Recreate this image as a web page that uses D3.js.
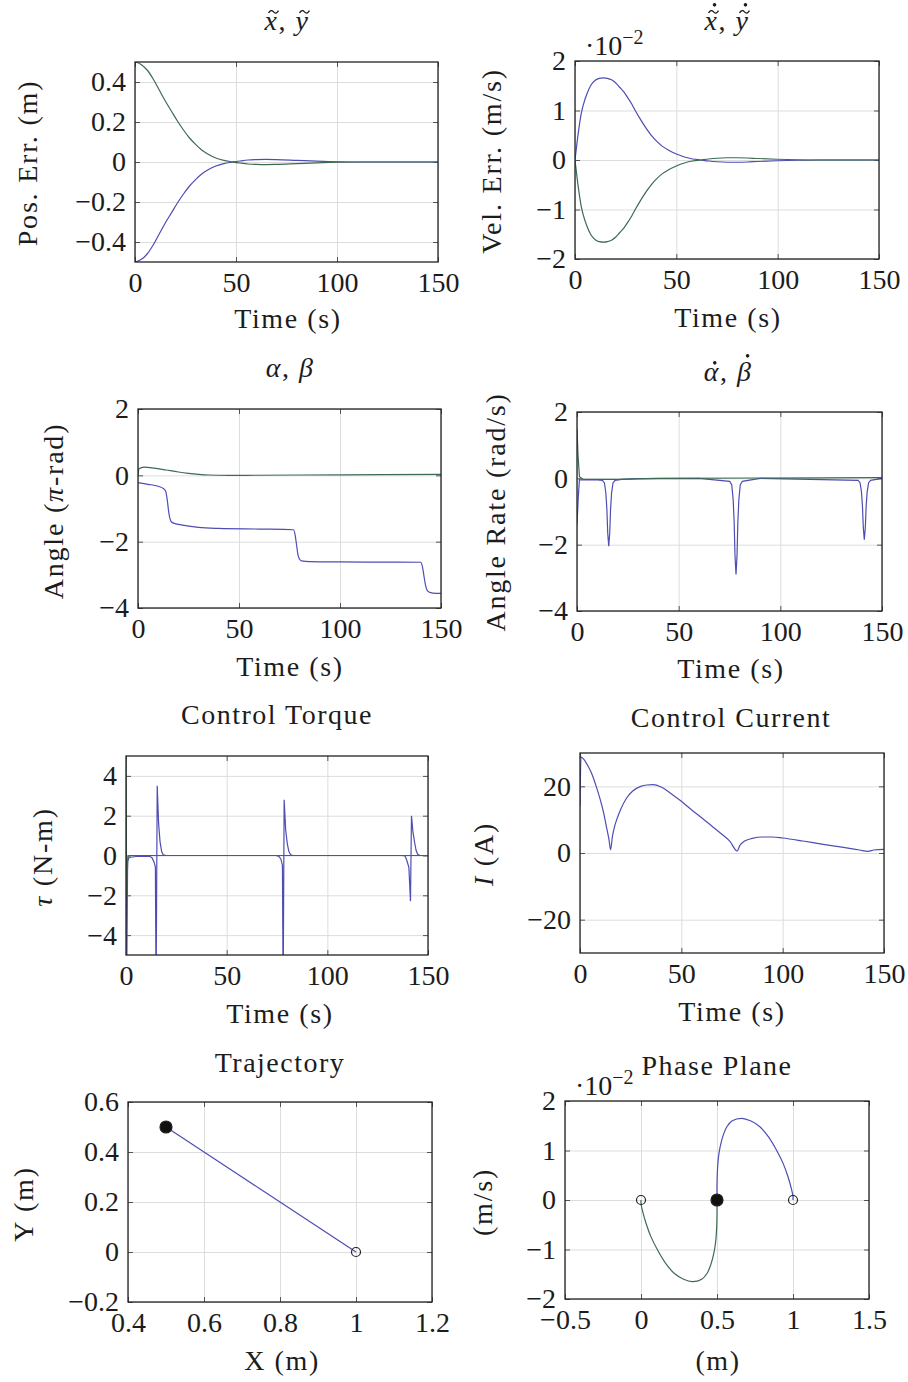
<!DOCTYPE html>
<html>
<head>
<meta charset="utf-8">
<script src="https://cdn.jsdelivr.net/npm/d3@7"></script>
<style>
body { margin: 0; background: #fff; }
</style>
</head>
<body>
<svg id="fig" width="908" height="1382"></svg>
<script>
// ---- data ----

// position error (m)
var posT     = [0,3,6,9,12,15,18,21,24,27,30,33,36,40,44,48,52,56,60,65,70,80,90,100,110,150];
var posGreen = [0.5,0.488,0.46,0.415,0.36,0.305,0.255,0.205,0.16,0.12,0.088,0.06,0.04,0.02,0.008,0.001,-0.005,-0.01,-0.012,-0.013,-0.012,-0.008,-0.004,-0.001,0,0];
var posBlue  = [-0.5,-0.488,-0.46,-0.415,-0.36,-0.305,-0.255,-0.205,-0.16,-0.12,-0.088,-0.06,-0.04,-0.02,-0.008,-0.001,0.005,0.01,0.012,0.013,0.012,0.008,0.004,0.001,0,0];

// velocity error (x 10^-2 m/s)
var velT     = [0,1,2,3,4,6,8,10,12,14,16,18,20,22,24,26,28,30,32,34,36,38,40,43,46,50,54,58,62,66,70,75,80,85,90,100,110,120,150];
var velBlue  = [0,0.35,0.66,0.92,1.1,1.35,1.52,1.61,1.65,1.66,1.65,1.62,1.56,1.47,1.38,1.26,1.13,0.98,0.84,0.71,0.59,0.48,0.39,0.28,0.2,0.12,0.06,0.02,0,-0.02,-0.035,-0.045,-0.045,-0.04,-0.03,-0.015,-0.005,0,0];
var velGreen = [0,-0.35,-0.66,-0.92,-1.1,-1.35,-1.52,-1.61,-1.65,-1.66,-1.65,-1.62,-1.56,-1.47,-1.38,-1.26,-1.13,-0.98,-0.84,-0.71,-0.59,-0.48,-0.39,-0.28,-0.2,-0.12,-0.06,-0.02,0,0.02,0.035,0.045,0.045,0.04,0.03,0.015,0.005,0,0];

// angles (pi-rad)
var angBlueT  = [0,5,10,13,13.8,14.5,15.2,15.8,16.5,18,22,30,40,60,77,77.8,78.5,79.2,80,81,85,100,140,140.8,141.6,142.3,143,144,146,150];
var angBlue   = [-0.22,-0.27,-0.33,-0.42,-0.5,-0.75,-1.1,-1.3,-1.4,-1.45,-1.5,-1.57,-1.6,-1.62,-1.64,-1.8,-2.1,-2.4,-2.53,-2.58,-2.6,-2.61,-2.62,-2.75,-3.05,-3.3,-3.45,-3.52,-3.55,-3.56];
var angGreenT = [0,0.5,3,8,14,20,25,30,35,45,80,120,150];
var angGreen  = [0,0.2,0.25,0.22,0.16,0.1,0.06,0.03,0.01,0,0.01,0.02,0.03];

// angle rates (rad/s)
var rateBlueT  = [0,0.6,1.2,3,10,12.5,13.5,14.2,14.7,15.1,15.6,16.1,16.5,17,17.7,18.7,22,30,60,75.1,76.1,76.8,77.3,77.7,78.2,78.7,79.1,79.6,80.3,81.3,90,138.2,139.2,139.9,140.4,140.8,141.3,141.8,142.2,142.7,143.4,144.4,150];
var rateBlue   = [-1.4,-0.6,-0.04,-0.05,-0.05,-0.06,-0.14,-0.45,-0.94,-1.64,-2.05,-1.64,-0.94,-0.45,-0.14,-0.06,-0.03,-0.01,0,-0.09,-0.2,-0.64,-1.33,-2.32,-2.9,-2.32,-1.33,-0.64,-0.2,-0.09,0,-0.06,-0.13,-0.41,-0.85,-1.48,-1.85,-1.48,-0.85,-0.41,-0.13,-0.06,0];
var rateGreenT = [0,0.5,1.2,3,20,40,150];
var rateGreen  = [1.5,0.7,0.05,-0.03,-0.03,0,0.02];

// control torque (N-m)
var torqBlueT  = [0,0.3,0.8,1.5,5,12,13,14,14.6,14.95,15.5,16.2,16.9,17.7,18.5,20,74.5,76,77,77.7,78.05,78.55,79.3,80.1,80.9,81.8,83,137,138.6,139.5,140.5,141.3,141.8,142.5,143.3,144.1,144.9,146,150];
var torqBlue   = [2,-7,-0.3,-0.1,-0.05,-0.05,-0.12,-0.35,-0.6,-7,3.5,1.6,0.7,0.2,0.03,0,0,-0.05,-0.2,-0.5,-7,2.8,1.3,0.6,0.2,0.04,0,0,-0.02,-0.25,-0.6,-2.3,2.0,1.2,0.69,0.25,0.06,0,0];
var torqGreenT = [0,0.3,0.9,1.5,150];
var torqGreen  = [6,-2,-0.1,0,0];

// control current (A)
var curT    = [0,0.5,2,4,6,8,10,11.5,13,14.3,15.1,16,17,18.1,20,23,26,30,33,36,40,45,50,55,60,65,70,74,77.5,79,81,85,90,95,100,110,120,130,138,142,145,150];
var curBlue = [14,28.8,28,26,23.5,20,16,12.5,8,4,1,5,7.8,10,13,16.5,18.6,20,20.4,20.5,19.8,17.8,15.5,13,10.6,8.1,5.6,3.5,0.6,2.4,3.5,4.4,4.8,4.8,4.5,3.6,2.6,1.7,0.9,0.5,0.9,1.1];

// trajectory (m)
var trajX = [0.5,0.625,0.75,0.875,1.0];
var trajY = [0.5,0.375,0.25,0.125,0.0];

// phase plane: position (m) vs velocity (x 10^-2 m/s)
var phaseBlueX  = [0.5,0.5,0.502,0.506,0.512,0.521,0.54,0.565,0.6,0.663,0.72,0.782,0.84,0.891,0.935,0.967,0.99,1.0,1.0];
var phaseBlueV  = [0,0.3,0.54,0.75,0.92,1.08,1.3,1.48,1.6,1.65,1.6,1.48,1.27,1.01,0.74,0.47,0.22,0.07,0];
var phaseGreenX = [0.5,0.5,0.498,0.494,0.488,0.479,0.46,0.435,0.4,0.337,0.28,0.218,0.16,0.109,0.065,0.033,0.01,0,0];
var phaseGreenV = [0,-0.3,-0.54,-0.75,-0.92,-1.08,-1.3,-1.48,-1.6,-1.65,-1.6,-1.48,-1.27,-1.01,-0.74,-0.47,-0.22,-0.07,0];

var timeTicks = [0,50,100,150];

// ---- drawing ----
var BLUE = "#4d4db3", GREEN = "#3d6b52", INK = "#1c1c1c";
var SERIF = "'Liberation Serif', 'DejaVu Serif', serif";
var svg = d3.select("#fig");

// title parts: [text, italic, accents]  accents: t = tilde, d = dot, h = tall letter
var panels = [
  { frame:[135,438,62,262], xd:[0,150], yd:[-0.5,0.5], xt:timeTicks, yt:[-0.4,-0.2,0,0.2,0.4],
    title:[["x",1,"t"],[", ",0],["y",1,"t"]], tpos:[287,30],
    xlab:[["Time (s)",0]], xpos:[288,328], ylab:[["Pos. Err. (m)",0]], ypos:[37,163],
    series:[[posT, posBlue, BLUE],[posT, posGreen, GREEN]], curve:d3.curveMonotoneX },
  { frame:[575,879,61,259], xd:[0,150], yd:[-2,2], xt:timeTicks, yt:[-2,-1,0,1,2],
    title:[["x",1,"td"],[", ",0],["y",1,"td"]], tpos:[727,30],
    xlab:[["Time (s)",0]], xpos:[728,327], ylab:[["Vel. Err. (m/s)",0]], ypos:[501,161],
    expo:[585,55],
    series:[[velT, velBlue, BLUE],[velT, velGreen, GREEN]], curve:d3.curveMonotoneX },
  { frame:[138,441,409,608], xd:[0,150], yd:[-4,2], xt:timeTicks, yt:[-4,-2,0,2],
    title:[["\u03b1",1],[", ",0],["\u03b2",1]], tpos:[290,377],
    xlab:[["Time (s)",0]], xpos:[290,676], ylab:[["Angle (",0],["\u03c0",1],["-rad)",0]], ypos:[63,511],
    series:[[angBlueT, angBlue, BLUE],[angGreenT, angGreen, GREEN]], curve:d3.curveMonotoneX },
  { frame:[577,882,412,611], xd:[0,150], yd:[-4,2], xt:timeTicks, yt:[-4,-2,0,2],
    title:[["\u03b1",1,"d"],[", ",0],["\u03b2",1,"dh"]], tpos:[728,381],
    xlab:[["Time (s)",0]], xpos:[731,678], ylab:[["Angle Rate (rad/s)",0]], ypos:[505,512],
    series:[[rateBlueT, rateBlue, BLUE],[rateGreenT, rateGreen, GREEN]], curve:d3.curveLinear },
  { frame:[126,428,756,955], xd:[0,150], yd:[-5,5], xt:timeTicks, yt:[-4,-2,0,2,4],
    title:[["Control Torque",0]], tpos:[277,724],
    xlab:[["Time (s)",0]], xpos:[280,1023], ylab:[["\u03c4",1],[" (N-m)",0]], ypos:[52,857],
    series:[[torqBlueT, torqBlue, BLUE],[torqGreenT, torqGreen, GREEN]], curve:d3.curveLinear },
  { frame:[580,884,753,953], xd:[0,150], yd:[-30,30], xt:timeTicks, yt:[-20,0,20],
    title:[["Control Current",0]], tpos:[731,727],
    xlab:[["Time (s)",0]], xpos:[732,1021], ylab:[["I",1],[" (A)",0]], ypos:[493,854],
    series:[[curT, curBlue, BLUE]], curve:d3.curveMonotoneX },
  { frame:[128,432,1102,1302], xd:[0.4,1.2], yd:[-0.2,0.6], xt:[0.4,0.6,0.8,1,1.2], yt:[-0.2,0,0.2,0.4,0.6],
    title:[["Trajectory",0]], tpos:[280,1072],
    xlab:[["X (m)",0]], xpos:[282,1370], ylab:[["Y (m)",0]], ypos:[33,1204],
    series:[[trajX, trajY, BLUE]], curve:d3.curveLinear,
    marks:[[0.5,0.5,1],[1,0,0]] },
  { frame:[565,869,1101,1299], xd:[-0.5,1.5], yd:[-2,2], xt:[-0.5,0,0.5,1,1.5], yt:[-2,-1,0,1,2],
    title:[["Phase Plane",0]], tpos:[717,1075],
    xlab:[["(m)",0]], xpos:[718,1370], ylab:[["(m/s)",0]], ypos:[492,1202],
    expo:[575,1095],
    series:[[phaseBlueX, phaseBlueV, BLUE],[phaseGreenX, phaseGreenV, GREEN]], curve:d3.curveCatmullRom,
    marks:[[0,0,0],[1,0,0],[0.5,0,1]] }
];

function richText(sel, parts) {
  parts.forEach(function (p) {
    sel.append("tspan").text(p[0]).style("font-style", p[1] ? "italic" : "normal");
  });
}

// accents (tilde / dot) drawn above single letters of a title
function accents(g, textSel, parts, baseline, size) {
  var node = textSel.node(), idx = 0;
  parts.forEach(function (p) {
    if (p[2]) {
      var s = node.getStartPositionOfChar(idx), e = node.getEndPositionOfChar(idx);
      var cx = (s.x + e.x) / 2 + 2;
      var yTop = baseline - size * (p[2].indexOf("h") >= 0 ? 0.72 : 0.47);
      var ty = yTop - 5;
      if (p[2].indexOf("t") >= 0) {
        g.append("path")
          .attr("d", "M" + (cx - 5) + "," + (ty + 1.2) + " Q" + (cx - 2.5) + "," + (ty - 3) + " " + cx + "," + ty + " T" + (cx + 5) + "," + (ty - 1.2))
          .attr("fill", "none").attr("stroke", INK).attr("stroke-width", 1.3);
        ty -= 7;
      }
      if (p[2].indexOf("d") >= 0) {
        g.append("circle").attr("cx", cx + 1).attr("cy", ty).attr("r", 1.8).attr("fill", INK);
      }
    }
    idx += p[0].length;
  });
}

var fmt = d3.format("~g");

panels.forEach(function (p, i) {
  var f = p.frame;
  var x = d3.scaleLinear().domain(p.xd).range([f[0], f[1]]);
  var y = d3.scaleLinear().domain(p.yd).range([f[3], f[2]]);
  var w = f[1] - f[0], h = f[3] - f[2];
  var g = svg.append("g");

  svg.append("clipPath").attr("id", "clip" + i)
    .append("rect").attr("x", f[0]).attr("y", f[2]).attr("width", w).attr("height", h);

  // grid
  g.append("g").attr("transform", "translate(0," + f[3] + ")")
    .call(d3.axisBottom(x).tickValues(p.xt).tickSize(-h).tickFormat(""))
    .call(function (a) { a.select(".domain").remove(); a.selectAll("line").attr("stroke", "#d9d9d9").attr("stroke-width", 0.9); });
  g.append("g").attr("transform", "translate(" + f[0] + ",0)")
    .call(d3.axisLeft(y).tickValues(p.yt).tickSize(-w).tickFormat(""))
    .call(function (a) { a.select(".domain").remove(); a.selectAll("line").attr("stroke", "#d9d9d9").attr("stroke-width", 0.9); });

  // inward ticks on all four sides, labels left and bottom
  var bottom = g.append("g").attr("transform", "translate(0," + f[3] + ")")
    .call(d3.axisBottom(x).tickValues(p.xt).tickSize(-5).tickPadding(10).tickFormat(fmt));
  var left = g.append("g").attr("transform", "translate(" + f[0] + ",0)")
    .call(d3.axisLeft(y).tickValues(p.yt).tickSize(-5).tickPadding(9).tickFormat(fmt));
  var top = g.append("g").attr("transform", "translate(0," + f[2] + ")")
    .call(d3.axisTop(x).tickValues(p.xt).tickSize(-5).tickFormat(""));
  var right = g.append("g").attr("transform", "translate(" + f[1] + ",0)")
    .call(d3.axisRight(y).tickValues(p.yt).tickSize(-5).tickFormat(""));
  [bottom, left, top, right].forEach(function (a) {
    a.attr("font-family", null).attr("font-size", null);
    a.select(".domain").remove();
    a.selectAll("line").attr("stroke", "#444").attr("stroke-width", 0.9);
    a.selectAll("text").style("font-family", SERIF).style("font-size", "28px").attr("fill", INK);
  });

  // curves
  var line = d3.line()
    .x(function (d) { return x(d[0]); })
    .y(function (d) { return y(d[1]); })
    .curve(p.curve);
  var plot = g.append("g").attr("clip-path", "url(#clip" + i + ")");
  p.series.forEach(function (s) {
    plot.append("path")
      .datum(d3.zip(s[0], s[1]))
      .attr("d", line)
      .attr("fill", "none")
      .attr("stroke", s[2])
      .attr("stroke-width", 1.2);
  });

  if (p.marks) {
    g.selectAll(".mk").data(p.marks).enter().append("circle")
      .attr("cx", function (d) { return x(d[0]); })
      .attr("cy", function (d) { return y(d[1]); })
      .attr("r", function (d) { return d[2] ? 6 : 4.5; })
      .attr("fill", function (d) { return d[2] ? "#111" : "none"; })
      .attr("stroke", "#222")
      .attr("stroke-width", 1.2);
  }

  // frame
  g.append("rect").attr("x", f[0]).attr("y", f[2]).attr("width", w).attr("height", h)
    .attr("fill", "none").attr("stroke", "#222").attr("stroke-width", 1.3);

  // titles and labels
  var t = g.append("text").attr("x", p.tpos[0]).attr("y", p.tpos[1])
    .attr("text-anchor", "middle").attr("fill", INK)
    .style("font-family", SERIF).style("font-size", "28px").style("letter-spacing", "1.5px");
  richText(t, p.title);
  accents(g, t, p.title, p.tpos[1], 28);

  var xl = g.append("text").attr("x", p.xpos[0]).attr("y", p.xpos[1])
    .attr("text-anchor", "middle").attr("fill", INK)
    .style("font-family", SERIF).style("font-size", "28px").style("letter-spacing", "1.6px");
  richText(xl, p.xlab);

  var yl = g.append("text")
    .attr("transform", "translate(" + p.ypos[0] + "," + p.ypos[1] + ") rotate(-90)")
    .attr("text-anchor", "middle").attr("fill", INK)
    .style("font-family", SERIF).style("font-size", "28px").style("letter-spacing", "1.8px");
  richText(yl, p.ylab);

  if (p.expo) {
    var e = g.append("text").attr("x", p.expo[0]).attr("y", p.expo[1]).attr("fill", INK)
      .style("font-family", SERIF).style("font-size", "28px");
    e.append("tspan").text("\u00b710");
    e.append("tspan").text("\u22122").attr("dy", -11).style("font-size", "20px");
  }
});
</script>
</body>
</html>
